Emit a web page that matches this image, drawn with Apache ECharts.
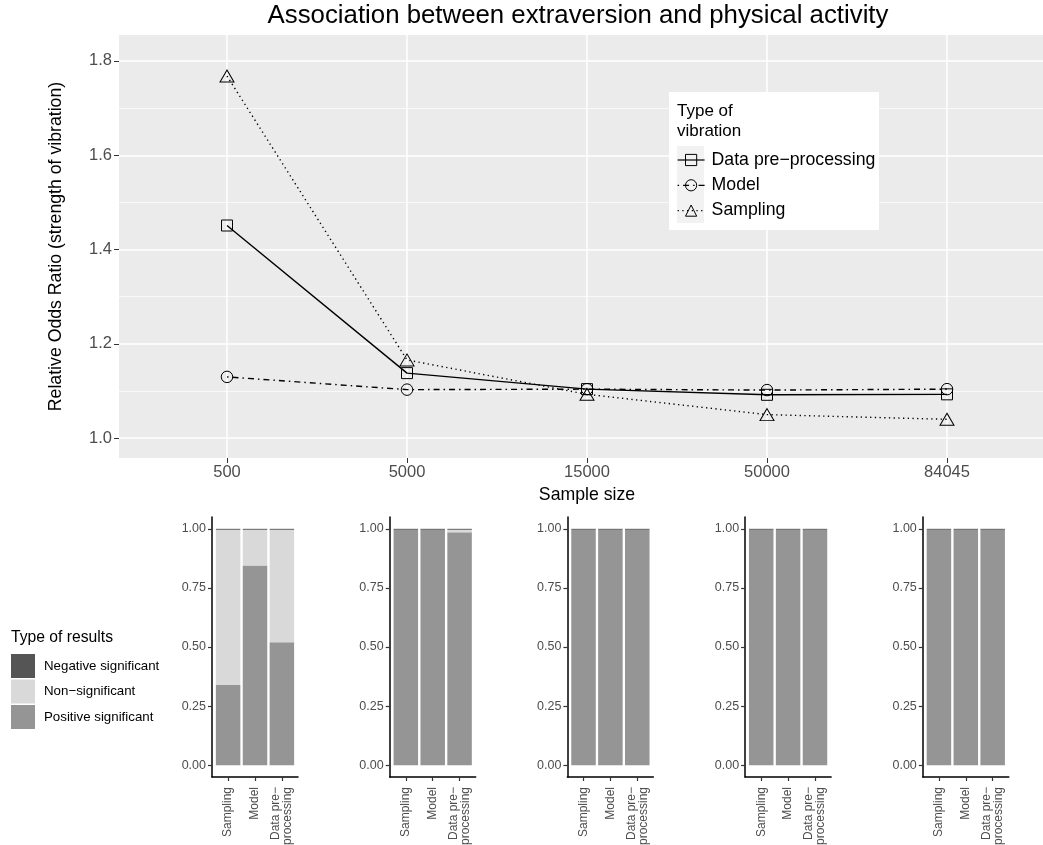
<!DOCTYPE html>
<html>
<head>
<meta charset="utf-8">
<script src="https://cdn.jsdelivr.net/npm/echarts@6/dist/echarts.min.js"></script>
<style>
html, body { margin: 0; padding: 0; background: #fff; }
#main { width: 1043px; height: 845px; }
</style>
</head>
<body>
<div id="main"></div>
<script>
// top panel: relative odds ratio by sample size
var sampleSizes = ['500', '5000', '15000', '50000', '84045'];
var dataPreVals = [1.451, 1.138, 1.104, 1.092, 1.093];
var modelVals = [1.130, 1.103, 1.104, 1.102, 1.104];
var samplingVals = [1.768, 1.166, 1.093, 1.050, 1.040];
var orTicks = [1.0, 1.2, 1.4, 1.6, 1.8];

// bottom panels: share of results per type of vibration (one row per sample size)
var methods = ['Sampling', 'Model', 'Data pre\u2212\nprocessing'];
var positiveSig = [
  [0.339, 0.845, 0.520],
  [0.996, 0.996, 0.985],
  [0.996, 0.996, 0.996],
  [0.996, 0.996, 0.996],
  [0.996, 0.996, 0.996]
];
var nonSig = [
  [0.657, 0.151, 0.476],
  [0, 0, 0.011],
  [0, 0, 0],
  [0, 0, 0],
  [0, 0, 0]
];
var negativeSig = [
  [0.004, 0.004, 0.004],
  [0.004, 0.004, 0.004],
  [0.004, 0.004, 0.004],
  [0.004, 0.004, 0.004],
  [0.004, 0.004, 0.004]
];
var propTicks = [0, 0.25, 0.5, 0.75, 1];

var font = '"Liberation Sans", Arial, Helvetica, sans-serif';
var NAME_PRE = 'Data pre\u2212processing', NAME_MODEL = 'Model', NAME_SAMP = 'Sampling';
var NAME_NEG = 'Negative significant', NAME_NON = 'Non\u2212significant', NAME_POS = 'Positive significant';

function pairs(vals) {
  return vals.map(function (v, i) { return [i, v]; });
}
// value first so the stack runs on the y values
function stackPairs(vals) {
  return vals.map(function (v, i) { return [v, i]; });
}

var grids = [{
  left: 119, top: 35, right: -12, bottom: 387, outerBoundsMode: 'none',
  show: true, backgroundColor: '#EBEBEB', borderWidth: 0
}];
var xAxes = [{
  gridIndex: 0, type: 'value', min: -0.6, max: 4.6,
  axisLine: { show: false, onZero: false },
  axisTick: { show: true, length: 5, customValues: [0, 1, 2, 3, 4], lineStyle: { color: '#333', width: 1 } },
  axisLabel: {
    customValues: [0, 1, 2, 3, 4], margin: 6, color: '#4D4D4D', fontSize: 16.5, fontFamily: font,
    formatter: function (v) { return sampleSizes[Math.round(v)]; }
  },
  splitLine: { show: true, lineStyle: { color: '#fff', width: 1.5 } },
  name: 'Sample size', nameLocation: 'middle', nameGap: 23,
  nameTextStyle: { color: '#000', fontSize: 17.7, fontFamily: font }
}];
var yAxes = [{
  gridIndex: 0, type: 'value', min: 0.958, max: 1.855,
  axisLine: { show: false, onZero: false },
  axisTick: { show: true, length: 5, customValues: orTicks, lineStyle: { color: '#333', width: 1 } },
  axisLabel: {
    customValues: orTicks, margin: 7, color: '#4D4D4D', fontSize: 16.5, fontFamily: font,
    formatter: function (v) { return v.toFixed(1); }
  },
  splitLine: { show: true, lineStyle: { color: '#fff', width: 1.5 } },
  minorTick: { show: false, splitNumber: 2 },
  minorSplitLine: { show: true, lineStyle: { color: '#fff', width: 0.7 } },
  name: 'Relative Odds Ratio (strength of vibration)', nameLocation: 'middle', nameGap: 54,
  nameTextStyle: { color: '#000', fontSize: 17.7, fontFamily: font }
}];

var lineBase = function (name, vals, symbol, size, dash) {
  return {
    name: name, type: 'line', xAxisIndex: 0, yAxisIndex: 0,
    data: pairs(vals), symbol: symbol, symbolSize: size,
    itemStyle: { color: 'rgba(0,0,0,0)', borderColor: '#000', borderWidth: 1 },
    lineStyle: { color: '#000', width: 1.4, type: dash },
    emphasis: { disabled: true }, z: 3
  };
};
var series = [
  lineBase(NAME_PRE, dataPreVals, 'rect', 11, 'solid'),
  lineBase(NAME_MODEL, modelVals, 'circle', 11.5, [1.5, 4, 6, 4]),
  lineBase(NAME_SAMP, samplingVals, 'triangle', [14, 12], [1.3, 3.4])
];

for (var i = 0; i < 5; i++) {
  grids.push({ left: 212 + 177.7 * i, top: 517, width: 86, height: 260, outerBoundsMode: 'none' });
  xAxes.push({
    gridIndex: i + 1, type: 'value', min: -0.6, max: 2.6,
    axisLine: { show: true, onZero: false, lineStyle: { color: '#000', width: 1.5 } },
    axisTick: { show: true, length: 4, customValues: [0, 1, 2], lineStyle: { color: '#333', width: 1.2 } },
    axisLabel: {
      customValues: [0, 1, 2], rotate: 90, margin: 10, color: '#4D4D4D', fontSize: 12, fontFamily: font,
      lineHeight: 12, formatter: function (v) { return methods[Math.round(v)]; }
    },
    splitLine: { show: false }
  });
  yAxes.push({
    gridIndex: i + 1, type: 'value', min: -0.05, max: 1.05,
    axisLine: { show: true, onZero: false, lineStyle: { color: '#000', width: 1.5 } },
    axisTick: { show: true, length: 4, customValues: propTicks, lineStyle: { color: '#333', width: 1.2 } },
    axisLabel: {
      customValues: propTicks, margin: 6, color: '#4D4D4D', fontSize: 12.5, fontFamily: font,
      formatter: function (v) { return v.toFixed(2); }
    },
    splitLine: { show: false }
  });
  [[NAME_POS, positiveSig, '#959595'], [NAME_NON, nonSig, '#D9D9D9'], [NAME_NEG, negativeSig, '#555555']]
    .forEach(function (s) {
      series.push({
        name: s[0], type: 'bar', stack: 'p' + i, xAxisIndex: i + 1, yAxisIndex: i + 1,
        barWidth: 24.5, data: stackPairs(s[1][i]), encode: { x: 1, y: 0 },
        itemStyle: { color: s[2] }, emphasis: { disabled: true }
      });
    });
}

var option = {
  animation: false,
  textStyle: { fontFamily: font },
  grid: grids,
  xAxis: xAxes,
  yAxis: yAxes,
  legend: [{
    data: [NAME_PRE, NAME_MODEL, NAME_SAMP],
    orient: 'vertical', left: 677, top: 150, padding: 0,
    itemWidth: 27, itemHeight: 14, itemGap: 5.3, z: 8,
    itemStyle: { color: 'rgba(0,0,0,0)', borderColor: '#000', borderWidth: 1 },
    lineStyle: { color: '#000', width: 1.2 },
    textStyle: { color: '#000', fontSize: 17.7, lineHeight: 20, fontFamily: font, padding: [0, 0, 0, 2] },
    selectedMode: false
  }, {
    data: [NAME_NEG, NAME_NON, NAME_POS],
    orient: 'vertical', left: 11, top: 654, padding: 0,
    itemWidth: 24, itemHeight: 24, itemGap: 1.5, icon: 'rect',
    textStyle: { color: '#000', fontSize: 13.3, fontFamily: font, padding: [0, 0, 0, 4] },
    selectedMode: false
  }],
  graphic: [
    { type: 'rect', z: 6, shape: { x: 669, y: 92, width: 210, height: 138 }, style: { fill: '#fff' } },
    { type: 'rect', z: 7, shape: { x: 677, y: 146, width: 27, height: 77 }, style: { fill: '#F2F2F2' } },
    { type: 'text', z: 7, x: 677, y: 102, style: { text: 'Type of\nvibration', fill: '#000', font: '17px ' + font, lineHeight: 19.5 } },
    { type: 'text', x: 578, y: 3, style: { text: 'Association between extraversion and physical activity', fill: '#000', font: '25.8px ' + font, align: 'center' } },
    { type: 'text', x: 11, y: 630, style: { text: 'Type of results', fill: '#000', font: '15.7px ' + font } }
  ],
  series: series
};

var chart = echarts.init(document.getElementById('main'), null, { renderer: 'canvas' });
chart.setOption(option);
</script>
</body>
</html>
